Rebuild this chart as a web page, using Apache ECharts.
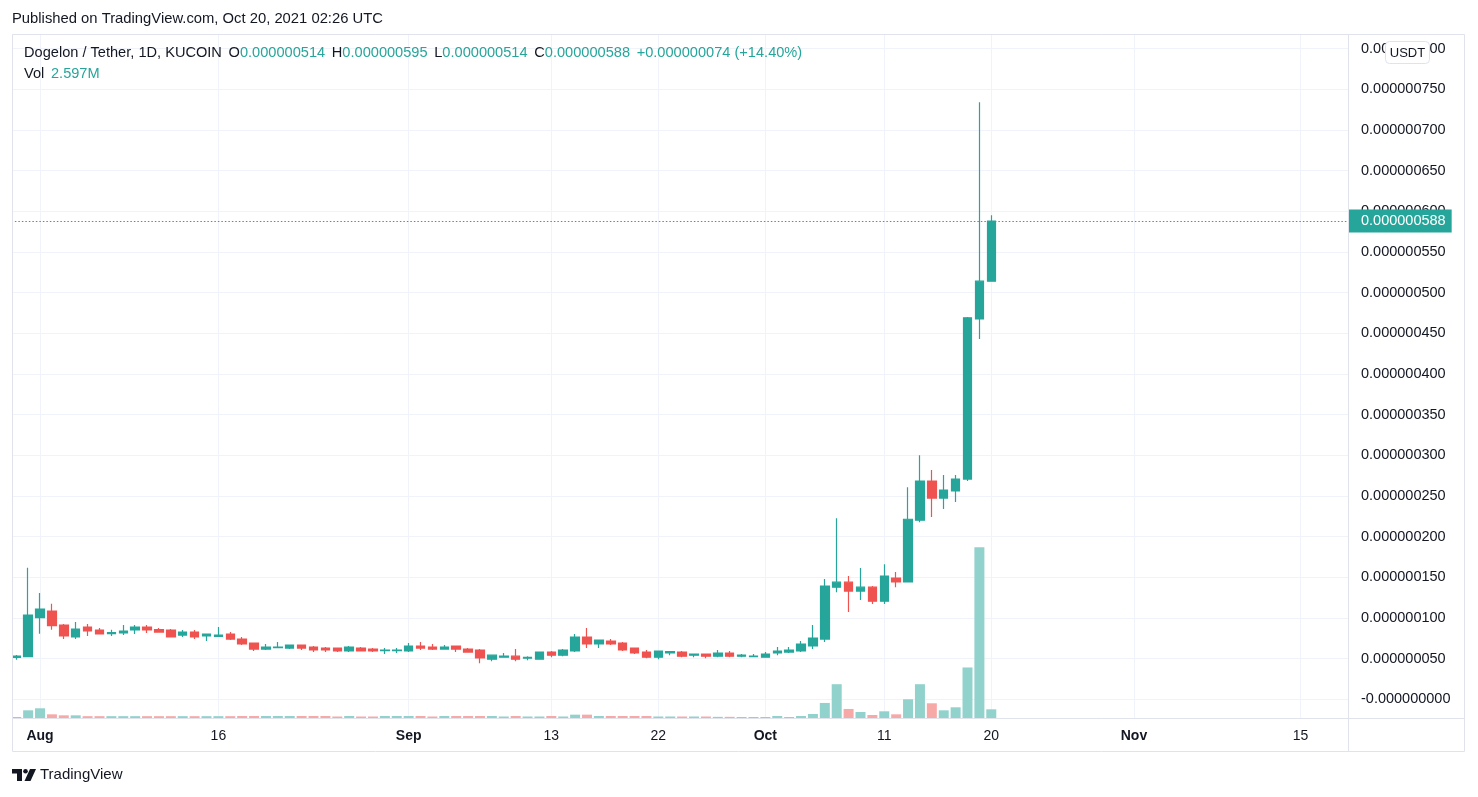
<!DOCTYPE html>
<html><head><meta charset="utf-8">
<script src="https://cdn.jsdelivr.net/npm/echarts@6/dist/echarts.min.js"></script>
<style>html,body{margin:0;padding:0;background:#fff}#c{width:1478px;height:797px}</style>
</head><body><div id="c"></div>
<script>
// Prices in nano-USDT (1e-9 USDT); volumes in millions
const firstDay = '2021-07-29';
const dayCount = 114;
const candleStart = '2021-07-30';
const opens  = [51.5,52.3,100.2,108.4,91.2,76.5,88.8,85.1,80.5,81.4,85.1,88.8,85.5,85.1,78.9,82.6,77.7,77.3,80.2,74,69.1,61.7,63.3,62.9,66.6,64.2,62.9,62.9,59.3,62.9,61.7,59.6,59.6,59.3,65.4,64.2,61.7,65.4,61.7,60.5,49.2,51.6,52.9,50.4,49.2,58,54.2,59.3,76.5,67.9,71.6,69.1,62.9,58,51.6,56.8,58,54.2,55.6,52.9,56.8,52.9,52.3,51.6,56.8,58,59.3,65.4,74,137.8,143.9,132.9,137.8,120.6,149,144.2,220.1,268.2,247.3,256,270.7,467.5,514];
const closes = [53,103.5,110.9,90.4,77.7,86.3,83.9,80.2,81.8,83.9,88.8,85.1,82.6,76.5,82.6,76.5,80.2,78.9,74,67.9,61.7,64.2,64.2,66.6,62.9,60.5,60.5,59.3,64.2,59.3,59.3,60.5,60.5,65.4,62.9,61.7,64.2,61.7,58,50.7,54.2,52.9,49.2,51.6,58,54.2,60.5,76.5,67.9,72.8,67.9,60.5,56.8,51.6,59.3,58.4,52.9,55.6,52.9,56.8,52.9,54.2,52.9,55.6,59.3,60.5,67.9,75.2,139.2,143.9,132.9,137.8,120.6,151.5,144.2,221.3,268.2,247.3,257.2,270.7,469,514,588];
const lows   = [48.6,52,80.5,85.5,74,74,77.7,80,77.7,78.9,80.2,81.4,82.4,76.3,76.5,74,71.6,77,72.8,66.6,59.3,60.5,63,61.7,60.5,58,58,58,58,59.1,58,55.6,56.8,58,60.5,60.5,61.5,58,57.8,44.3,46.7,51.4,46.7,48,49,51.6,52.9,58,62.9,62.9,66.6,59.3,55.6,50.4,49.2,54.2,51.6,51.6,50.4,51.6,51.6,51.6,51.6,51.4,54.2,56.8,58,61.7,70.3,131.6,107.3,122,117,117,137.8,144,217.6,224,233.8,242.4,268.2,443,514];
const highs  = [54.3,161.7,130.6,117.4,92.5,94.9,92.5,87.6,85.5,91.2,91.2,91.2,87.6,86.3,85.1,85.1,80.5,88.8,82.6,76.5,69.5,67.9,70.3,66.8,66.8,65.4,64.2,63.1,65.4,64.2,62.9,62.9,62.9,69.1,70.3,67.9,66.6,65.6,62.9,61.7,54.4,56.8,61.7,52.9,58.3,59.3,61.7,80.2,87.6,73,74,70.3,63.1,60.5,59.5,59.3,59.3,55.8,55.8,60.5,59.3,55.6,55.6,58,64.2,64.2,71.6,91.2,147.8,222.5,151.5,161.3,139.1,166,156.4,260.7,300,281.8,275.6,275.6,470,734,595];
const volumes = [0.3,2.3,2.9,1.1,0.8,0.8,0.55,0.55,0.55,0.55,0.55,0.55,0.55,0.55,0.55,0.55,0.55,0.55,0.55,0.6,0.6,0.6,0.6,0.6,0.6,0.6,0.6,0.45,0.6,0.45,0.45,0.6,0.6,0.6,0.6,0.45,0.6,0.6,0.6,0.6,0.6,0.45,0.6,0.45,0.45,0.6,0.45,1.0,1.0,0.6,0.6,0.6,0.6,0.6,0.45,0.45,0.45,0.45,0.45,0.35,0.35,0.3,0.3,0.3,0.6,0.3,0.6,1.2,4.5,10.1,2.7,1.8,0.9,2.0,1.1,5.6,10.1,4.4,2.3,3.2,15.1,51.0,2.597];
const tickDates  = ['2021-08-01','2021-08-16','2021-09-01','2021-09-13','2021-09-22','2021-10-01','2021-10-11','2021-10-20','2021-11-01','2021-11-15'];
const tickLabels = ['Aug','16','Sep','13','22','Oct','11','20','Nov','15'];
const monthLabels = ['Aug','Sep','Oct','Nov'];
const publishedText = 'Published on TradingView.com, Oct 20, 2021 02:26 UTC';
const symbolText = 'Dogelon / Tether, 1D, KUCOIN';
const quoteUnit = 'USDT';

const UP = '#26a69a', DOWN = '#ef5350', UPV = '#92d2cc', DOWNV = '#f7a9a7';
const TXT = '#131722', GRID = '#f0f3fa', FRAME = '#e0e3eb';
const FONT = 'Liberation Sans';

const cats = [];
const d0 = new Date(firstDay + 'T00:00:00Z').getTime();
for (let i = 0; i < dayCount; i++) cats.push(new Date(d0 + i * 864e5).toISOString().slice(0, 10));
const offset = cats.indexOf(candleStart);
const tickMap = {};
tickDates.forEach((d, i) => tickMap[d] = tickLabels[i]);

const kData = cats.map((c, i) => { const j = i - offset; return (j >= 0 && j < opens.length) ? [opens[j], closes[j], lows[j], highs[j]] : '-'; });
const vData = cats.map((c, i) => { const j = i - offset; if (j < 0 || j >= volumes.length) return '-'; return { value: volumes[j], itemStyle: { color: closes[j] >= opens[j] ? UPV : DOWNV } }; });

const fmt = v => (v / 1e9).toFixed(9);
const n = opens.length - 1;
const chg = closes[n] - closes[n - 1];
const pct = chg / closes[n - 1] * 100;
const headerText = `{n|${symbolText}}  {n|O}{g|${fmt(opens[n])}}  {n|H}{g|${fmt(highs[n])}}  {n|L}{g|${fmt(lows[n])}}  {n|C}{g|${fmt(closes[n])}}  {g|${chg >= 0 ? '+' : ''}${fmt(chg)} (${chg >= 0 ? '+' : ''}${pct.toFixed(2)}%)}`;
const volText = `{n|Vol}  {g|${volumes[n].toFixed(3)}M}`;

const chart = echarts.init(document.getElementById('c'), null, { renderer: 'canvas' });
const option = {
  animation: false,
  backgroundColor: '#ffffff',
  grid: { left: 4.36, right: 130, top: 34, bottom: 79, containLabel: false },
  xAxis: {
    type: 'category', data: cats, boundaryGap: false,
    axisLine: { show: false }, axisTick: { show: false },
    axisLabel: {
      interval: (i, v) => tickMap[v] !== undefined,
      hideOverlap: false,
      margin: 11,
      formatter: v => monthLabels.includes(tickMap[v]) ? `{b|${tickMap[v]}}` : `{r|${tickMap[v]}}`,
      rich: {
        b: { fontFamily: FONT, fontSize: 14, fontWeight: 'bold', color: TXT },
        r: { fontFamily: FONT, fontSize: 14, color: TXT }
      }
    },
    splitLine: { show: true, interval: (i, v) => tickMap[v] !== undefined, lineStyle: { color: GRID, width: 1 } }
  },
  yAxis: [{
    type: 'value', position: 'right', min: -23.1, max: 817.9, splitNumber: 17, scale: false,
    axisLine: { show: false }, axisTick: { show: false },
    axisLabel: { showMinLabel: false, showMaxLabel: false, margin: 13, color: TXT, fontFamily: FONT, fontSize: 14.5,
      formatter: v => Math.abs(v) < 1e-6 ? '-0.000000000' : fmt(v) },
    splitLine: { show: true, lineStyle: { color: GRID, width: 1 } }
  }, {
    type: 'value', min: 0, max: 204.4, show: false, splitLine: { show: false }
  }],
  series: [{
    type: 'bar', yAxisIndex: 1, data: vData, barWidth: 10, z: 1, silent: true
  }, {
    type: 'candlestick', data: kData, barWidth: 9, z: 3,
    itemStyle: { color: UP, color0: DOWN, borderColor: UP, borderColor0: DOWN, borderWidth: 1.2 },
    markLine: {
      silent: true, symbol: ['none', 'none'], animation: false,
      lineStyle: { color: UP, type: [1.5, 2], width: 1.2 },
      label: { show: true, position: 'end', distance: 0, formatter: () => fmt(closes[n]),
        backgroundColor: UP, color: '#ffffff', fontFamily: FONT, fontSize: 14.5, padding: [4, 6, 4, 13] },
      data: [{ yAxis: closes[n] }]
    }
  }],
  graphic: [
    { type: 'rect', z: 100, shape: { x: 0, y: 34, width: 12, height: 690 }, style: { fill: '#ffffff' } },
    { type: 'rect', z: 101, shape: { x: 12.5, y: 34.5, width: 1452, height: 717 }, style: { fill: 'none', stroke: FRAME, lineWidth: 1 } },
    { type: 'line', z: 101, shape: { x1: 1348.5, y1: 34, x2: 1348.5, y2: 752 }, style: { stroke: FRAME, lineWidth: 1 } },
    { type: 'line', z: 101, shape: { x1: 12, y1: 718.5, x2: 1465, y2: 718.5 }, style: { stroke: FRAME, lineWidth: 1 } },
    { type: 'text', z: 101, x: 12, y: 19, style: { text: publishedText, fill: TXT, font: `14.8px "${FONT}"`, verticalAlign: 'middle' } },
    { type: 'text', z: 101, x: 24, y: 53, style: { text: headerText, verticalAlign: 'middle',
      rich: { n: { fill: TXT, fontFamily: FONT, fontSize: 14.6 }, g: { fill: UP, fontFamily: FONT, fontSize: 14.6 } } } },
    { type: 'text', z: 101, x: 24, y: 74, style: { text: volText, verticalAlign: 'middle',
      rich: { n: { fill: TXT, fontFamily: FONT, fontSize: 14.6 }, g: { fill: UP, fontFamily: FONT, fontSize: 14.6 } } } },
    { type: 'rect', z: 102, shape: { x: 1385.5, y: 41.5, width: 44, height: 22, r: 4 }, style: { fill: '#ffffff', stroke: FRAME, lineWidth: 1 } },
    { type: 'text', z: 103, x: 1407.5, y: 53, style: { text: quoteUnit, fill: TXT, font: `13px "${FONT}"`, align: 'center', verticalAlign: 'middle' } },
    { type: 'polygon', z: 101, shape: { points: [[12, 769], [22, 769], [22, 781], [17, 781], [17, 773.5], [12, 773.5]] }, style: { fill: TXT } },
    { type: 'circle', z: 101, shape: { cx: 25.5, cy: 771.3, r: 2.3 }, style: { fill: TXT } },
    { type: 'polygon', z: 101, shape: { points: [[30, 769], [36, 769], [30.5, 781], [24.5, 781]] }, style: { fill: TXT } },
    { type: 'text', z: 101, x: 40, y: 775, style: { text: 'TradingView', fill: TXT, font: `15px "${FONT}"`, verticalAlign: 'middle' } }
  ]
};
chart.setOption(option);
</script></body></html>
